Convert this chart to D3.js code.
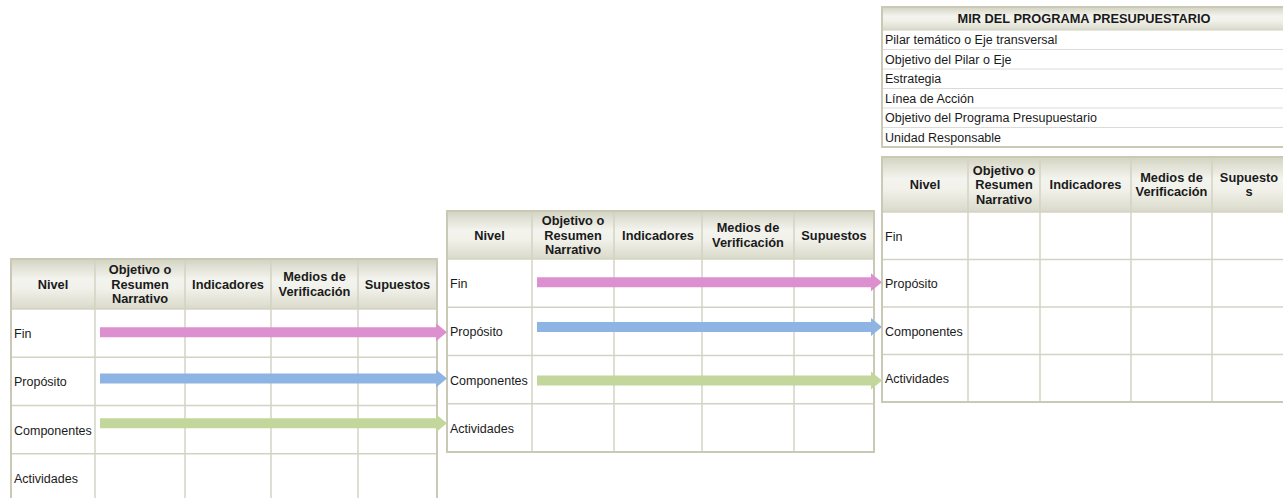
<!DOCTYPE html>
<html><head><meta charset="utf-8">
<script src="https://cdn.jsdelivr.net/npm/d3@7"></script>
<style>html,body{margin:0;padding:0;background:#fff;}svg{display:block;}</style>
</head><body>
<script>
// ---- data ----
const headerLabels = [["Nivel"], ["Objetivo o","Resumen","Narrativo"], ["Indicadores"], ["Medios de","Verificación"], ["Supuestos"]];
const headerLabelsNarrow = [["Nivel"], ["Objetivo o","Resumen","Narrativo"], ["Indicadores"], ["Medios de","Verificación"], ["Supuesto","s"]];
const levels = ["Fin", "Propósito", "Componentes", "Actividades"];
const mirTitle = "MIR DEL PROGRAMA PRESUPUESTARIO";
const mirRows = ["Pilar temático o Eje transversal", "Objetivo del Pilar o Eje", "Estrategia", "Línea de Acción", "Objetivo del Programa Presupuestario", "Unidad Responsable"];
const arrowColors = ["#dc90cf", "#8eb4e3", "#c3d69b"];
// arrow position within the source table, in row units (0 = top of "Fin" row)
const arrowRowsA = [0.48, 1.44, 2.37];
const arrowRowsB = [0.48, 1.41, 2.52];

// ---- layout ----
const W = 1283, H = 498;
const svg = d3.select("body").append("svg").attr("width", W).attr("height", H);
const defs = svg.append("defs");
const g = defs.append("linearGradient").attr("id","hdr").attr("x1",0).attr("y1",0).attr("x2",0).attr("y2",1);
[[0,"#d3d3c2"],[0.4,"#f4f4ef"],[0.6,"#f1f1ea"],[1,"#d9d9ca"]].forEach(([o,c])=>g.append("stop").attr("offset",o).attr("stop-color",c));

const FONT = "'Liberation Sans', Arial, sans-serif";
const BORDER = "#c9c9b6";
const GRID = "#d3d3c3";

const tables = [
  {cols:[11,95,185,271,358,437], top:259, hb:309, bottom:502, labels:headerLabels},
  {cols:[447,532,614,702,794,874], top:211, hb:259, bottom:452, labels:headerLabels},
  {cols:[882,968,1040,1131,1212,1286], top:157, hb:212, bottom:402, labels:headerLabelsNarrow}
];

tables.forEach(t => {
  t.y = d3.scaleLinear().domain([0, levels.length]).range([t.hb, t.bottom]);
  const x0 = t.cols[0], x1 = t.cols[t.cols.length-1];
  const gt = svg.append("g");
  gt.append("rect").attr("x",x0).attr("y",t.top).attr("width",x1-x0).attr("height",t.bottom-t.top).attr("fill","#fff");
  gt.append("rect").attr("x",x0).attr("y",t.top).attr("width",x1-x0).attr("height",t.hb-t.top).attr("fill","url(#hdr)");
  gt.selectAll("line.h").data(d3.range(1, levels.length)).join("line")
    .attr("x1",x0).attr("x2",x1).attr("y1",d=>t.y(d)).attr("y2",d=>t.y(d))
    .attr("stroke",GRID).attr("stroke-width",1.5);
  gt.append("line").attr("x1",x0).attr("x2",x1).attr("y1",t.hb).attr("y2",t.hb).attr("stroke",GRID).attr("stroke-width",1.5);
  gt.selectAll("line.v").data(t.cols.slice(1,-1)).join("line")
    .attr("x1",d=>d).attr("x2",d=>d).attr("y1",t.top).attr("y2",t.bottom)
    .attr("stroke",GRID).attr("stroke-width",1.5);
  gt.append("rect").attr("x",x0).attr("y",t.top).attr("width",x1-x0).attr("height",t.bottom-t.top)
    .attr("fill","none").attr("stroke",BORDER).attr("stroke-width",2);
  t.labels.forEach((lines, i) => {
    const cx = (t.cols[i] + t.cols[i+1]) / 2;
    const cy = (t.top + t.hb) / 2;
    const lh = 14.5;
    const txt = gt.append("text").attr("text-anchor","middle").attr("font-family",FONT)
      .attr("font-size","12.8px").attr("font-weight","bold").attr("fill","#1a1a1a");
    lines.forEach((l, j) => {
      txt.append("tspan").attr("x",cx).attr("y", cy + (j - (lines.length-1)/2)*lh + 4.5).text(l);
    });
  });
  gt.selectAll("text.lvl").data(levels).join("text")
    .attr("x", x0 + 3).attr("y", (d,i)=> t.y(i+0.5) + 5)
    .attr("font-family",FONT).attr("font-size","12.5px").attr("fill","#1a1a1a").text(d=>d);
});

function drawArrows(src, dst, rows) {
  const xs = src.cols[1] + 5, xe = dst.cols[0];
  const head = 11, bh = 5, hh = 9;
  rows.forEach((r, i) => {
    const y = src.y(r);
    const p = d3.path();
    p.moveTo(xs, y-bh); p.lineTo(xe-head, y-bh); p.lineTo(xe-head, y-hh); p.lineTo(xe, y);
    p.lineTo(xe-head, y+hh); p.lineTo(xe-head, y+bh); p.lineTo(xs, y+bh); p.closePath();
    svg.append("path").attr("d", p.toString()).attr("fill", arrowColors[i]);
  });
}
drawArrows(tables[0], tables[1], arrowRowsA);
drawArrows(tables[1], tables[2], arrowRowsB);

const mx0 = 882, mx1 = 1286, mTop = 7, mTitleB = 30, mBottom = 147;
const my = d3.scaleLinear().domain([0, mirRows.length]).range([mTitleB, mBottom]);
const gm = svg.append("g");
gm.append("rect").attr("x",mx0).attr("y",mTop).attr("width",mx1-mx0).attr("height",mBottom-mTop).attr("fill","#fff");
gm.append("rect").attr("x",mx0).attr("y",mTop).attr("width",mx1-mx0).attr("height",mTitleB-mTop).attr("fill","url(#hdr)");
gm.selectAll("line").data(d3.range(0, mirRows.length)).join("line")
  .attr("x1",mx0).attr("x2",mx1).attr("y1",d=>my(d)).attr("y2",d=>my(d))
  .attr("stroke",d=>d===0?GRID:"#dcdcd6").attr("stroke-width",1.2);
gm.append("rect").attr("x",mx0).attr("y",mTop).attr("width",mx1-mx0).attr("height",mBottom-mTop)
  .attr("fill","none").attr("stroke",BORDER).attr("stroke-width",2);
gm.append("text").attr("x",(mx0+mx1)/2).attr("y",(mTop+mTitleB)/2+4.5).attr("text-anchor","middle")
  .attr("font-family",FONT).attr("font-size","12.8px").attr("font-weight","bold").attr("fill","#1a1a1a").text(mirTitle);
gm.selectAll("text.r").data(mirRows).join("text")
  .attr("x",mx0+3).attr("y",(d,i)=>my(i+0.5)+4.5)
  .attr("font-family",FONT).attr("font-size","12.5px").attr("fill","#1a1a1a").text(d=>d);
</script>
</body></html>
